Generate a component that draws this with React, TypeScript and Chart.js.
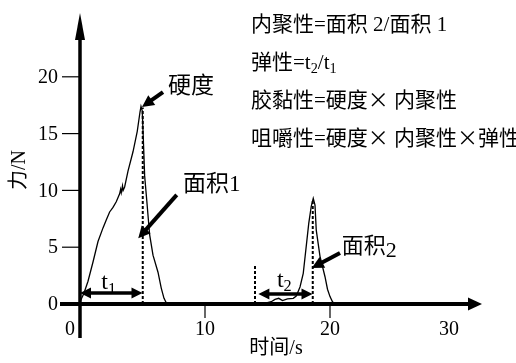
import { useEffect, useRef } from "react";
import { Chart, registerables } from "chart.js";

Chart.register(...registerables);

// ---- data ----
const xTicks = [0, 10, 20, 30];
const yTicks = [0, 5, 10, 15, 20];
const xRange = [0, 30];
const yRange = [0, 25];

const peak1X = [0, 0.3, 0.64, 1.04, 1.44, 1.84, 2.1, 2.37, 2.64, 2.9, 3.17, 3.25, 3.3, 3.4, 3.45, 3.57, 3.84, 4.24, 4.58, 4.8, 4.88, 4.98, 5.1, 5.17, 5.35, 5.57, 5.84, 6.24, 6.5, 6.72, 6.9, 7.1];
const peak1Y = [0.2, 0.9, 2.0, 3.7, 5.5, 6.7, 7.4, 8.1, 8.5, 9.0, 9.7, 10.1, 9.8, 10.4, 10.0, 10.3, 11.7, 13.4, 15.2, 16.9, 17.4, 17.0, 13.5, 11.3, 9.0, 6.1, 4.3, 2.8, 1.4, 0.5, 0.1, 0];

const peak2X = [14.6, 15.3, 15.6, 15.9, 16.2, 16.6, 17.06, 17.3, 17.6, 17.86, 18.1, 18.3, 18.5, 18.66, 18.8, 18.9, 19.2, 19.6, 19.8, 20.0, 20.2, 20.4];
const peak2Y = [0, 0.2, 0.4, 0.5, 0.3, 0.45, 0.5, 0.7, 1.5, 2.7, 5.1, 7.1, 8.6, 9.3, 8.7, 6.5, 4.2, 2.4, 1.3, 0.65, 0.2, 0];

// dashed guide lines: [x, top]
const guideX = [5.02, 18.62, 14.0];
const guideTop = [17.3, 9.2, 3.4];

// time spans t1, t2
const spanStart = [0, 14.27];
const spanEnd = [5.0, 18.6];
const spanLevel = [0.97, 0.88];

const CJK = '"Noto Sans CJK SC", sans-serif';

const formulas = [
  [{ t: "内聚性=面积 2/面积 1" }],
  [{ t: "弹性=t" }, { t: "2", sub: true }, { t: "/t" }, { t: "1", sub: true }],
  [{ t: "胶黏性=硬度" }, { t: "×", cjk: true }, { t: " 内聚性" }],
  [{ t: "咀嚼性=硬度" }, { t: "×", cjk: true }, { t: " 内聚性" }, { t: "×", cjk: true }, { t: "弹性" }],
];
const formulaX = 13.68;
const formulaY = [24.74, 21.39, 18.05, 14.7];

const xTitle = "时间/s";
const yTitle = "力/N";

const SERIF = '"Liberation Serif", "Noto Sans CJK SC", serif';

type Seg = { t: string; sub?: boolean; dy?: number; size?: number; cjk?: boolean };

function drawRich(ctx: CanvasRenderingContext2D, x: number, yMid: number, segs: Seg[], size: number) {
  ctx.textAlign = "left";
  ctx.textBaseline = "alphabetic";
  const base = yMid + size * 0.36;
  let cx = x;
  for (const s of segs) {
    const sz = s.size ?? (s.sub ? size * 0.68 : size);
    ctx.font = `${sz}px ${s.cjk ? CJK : SERIF}`;
    const y = base + (s.sub ? size * 0.2 : 0) + (s.dy ?? 0);
    ctx.fillText(s.t, cx, y);
    cx += ctx.measureText(s.t).width;
  }
}

function arrowHead(ctx: CanvasRenderingContext2D, x0: number, y0: number, x1: number, y1: number, len: number, half: number) {
  const a = Math.atan2(y1 - y0, x1 - x0);
  const bx = x1 - len * Math.cos(a);
  const by = y1 - len * Math.sin(a);
  ctx.beginPath();
  ctx.moveTo(x1, y1);
  ctx.lineTo(bx + half * Math.sin(a), by - half * Math.cos(a));
  ctx.lineTo(bx - half * Math.sin(a), by + half * Math.cos(a));
  ctx.closePath();
  ctx.fill();
}

function arrow(ctx: CanvasRenderingContext2D, x0: number, y0: number, x1: number, y1: number, w: number, len: number, half: number) {
  const a = Math.atan2(y1 - y0, x1 - x0);
  ctx.lineWidth = w;
  ctx.beginPath();
  ctx.moveTo(x0, y0);
  ctx.lineTo(x1 - (len * 0.8) * Math.cos(a), y1 - (len * 0.8) * Math.sin(a));
  ctx.stroke();
  arrowHead(ctx, x0, y0, x1, y1, len, half);
}

const overlay = {
  id: "overlay",
  afterDatasetsDraw(chart: any) {
    const ctx: CanvasRenderingContext2D = chart.ctx;
    const xs = chart.scales.x;
    const ys = chart.scales.y;
    const px = (v: number) => xs.getPixelForValue(v);
    const py = (v: number) => ys.getPixelForValue(v);
    ctx.save();
    ctx.fillStyle = "#000";
    ctx.strokeStyle = "#000";
    ctx.lineCap = "butt";

    const x0 = px(0);
    const y0 = py(0);

    // x axis with arrow
    const xEnd = px(xRange[1]) + 27;
    ctx.lineWidth = 4;
    ctx.beginPath();
    ctx.moveTo(x0 - 20, y0);
    ctx.lineTo(xEnd - 12, y0);
    ctx.stroke();
    arrowHead(ctx, x0, y0, xEnd, y0, 14, 6.5);

    // y axis with arrow
    const yEnd = 13;
    ctx.lineWidth = 3.5;
    ctx.beginPath();
    ctx.moveTo(x0, y0 + 34);
    ctx.lineTo(x0, yEnd + 20);
    ctx.stroke();
    arrowHead(ctx, x0, y0, x0, yEnd, 27, 5);

    // ticks
    ctx.lineWidth = 1.2;
    for (const t of yTicks) {
      if (t === 0) continue;
      ctx.beginPath();
      ctx.moveTo(x0 - 18, py(t));
      ctx.lineTo(x0, py(t));
      ctx.stroke();
    }
    for (const t of xTicks) {
      if (t === 0 || t === xRange[1]) continue;
      ctx.beginPath();
      ctx.moveTo(px(t), y0);
      ctx.lineTo(px(t), y0 + 14);
      ctx.stroke();
    }

    // tick labels
    ctx.font = `20px ${SERIF}`;
    ctx.textAlign = "right";
    ctx.textBaseline = "middle";
    for (const t of yTicks) ctx.fillText(String(t), x0 - 22, py(t) + 1);
    ctx.textAlign = "center";
    for (const t of xTicks) {
      const off = t === 0 ? -10 : t === xRange[1] ? -6 : 0;
      ctx.fillText(String(t), px(t) + off, y0 + 26);
    }

    // axis titles
    ctx.font = `20px ${SERIF}`;
    ctx.textAlign = "center";
    ctx.textBaseline = "middle";
    ctx.fillText(xTitle, 276, y0 + 45);
    ctx.save();
    ctx.translate(20, 170);
    ctx.rotate(-Math.PI / 2);
    ctx.fillText(yTitle, 0, 0);
    ctx.restore();

    // t1 / t2 double arrows
    for (let i = 0; i < spanStart.length; i++) {
      const a = px(spanStart[i]);
      const b = px(spanEnd[i]);
      const y = py(spanLevel[i]);
      ctx.lineWidth = 3.5;
      ctx.beginPath();
      ctx.moveTo(a + 8, y);
      ctx.lineTo(b - 8, y);
      ctx.stroke();
      arrowHead(ctx, b, y, a, y, 11, 5.5);
      arrowHead(ctx, a, y, b, y, 11, 5.5);
    }
    drawRich(ctx, px(1.7), py(2.1), [{ t: "t" }, { t: "1", sub: true }], 24);
    drawRich(ctx, px(15.75), py(2.3), [{ t: "t" }, { t: "2", sub: true }], 24);

    // annotations
    arrow(ctx, px(6.64), py(18.66), px(4.96), py(17.34), 4, 12, 6);
    arrow(ctx, px(7.74), py(9.6), px(4.66), py(5.78), 4, 12, 6);
    arrow(ctx, px(20.8), py(4.49), px(18.54), py(3.17), 4, 12, 6);
    drawRich(ctx, px(7.04), py(19.28), [{ t: "硬度" }], 23);
    drawRich(ctx, px(8.24), py(10.65), [{ t: "面积1" }], 23);
    drawRich(ctx, px(20.94), py(5.19), [{ t: "面积" }, { t: "2", dy: 4 }], 22);

    // formulas
    for (let i = 0; i < formulas.length; i++) {
      drawRich(ctx, px(formulaX), py(formulaY[i]), formulas[i] as Seg[], 21);
    }
    ctx.restore();
  },
};

export default function App() {
  const ref = useRef<HTMLCanvasElement | null>(null);
  useEffect(() => {
    if (!ref.current) return;
    const line = (xs: number[], ys: number[]) => xs.map((x, i) => ({ x, y: ys[i] }));
    const datasets: any[] = [
      { data: line(peak1X, peak1Y), borderColor: "#000", borderWidth: 1.3, pointRadius: 0, tension: 0 },
      { data: line(peak2X, peak2Y), borderColor: "#000", borderWidth: 1.3, pointRadius: 0, tension: 0 },
    ];
    guideX.forEach((gx, i) => {
      datasets.push({
        data: [{ x: gx, y: 0 }, { x: gx, y: guideTop[i] }],
        borderColor: "#000",
        borderWidth: 2,
        borderDash: [3, 2],
        pointRadius: 0,
      });
    });
    const chart = new Chart(ref.current, {
      type: "line",
      data: { datasets },
      options: {
        animation: false,
        responsive: true,
        maintainAspectRatio: false,
        layout: { padding: { left: 80, right: 61, top: 20, bottom: 59 } },
        plugins: { legend: { display: false }, tooltip: { enabled: false } },
        scales: {
          x: { type: "linear", min: xRange[0], max: xRange[1], display: false },
          y: { type: "linear", min: yRange[0], max: yRange[1], display: false },
        },
      },
      plugins: [overlay],
    });
    return () => chart.destroy();
  }, []);
  return (
    <div style={{ position: "fixed", left: 0, top: 0, width: 516, height: 363, background: "#fff" }}>
      <canvas ref={ref} />
    </div>
  );
}
